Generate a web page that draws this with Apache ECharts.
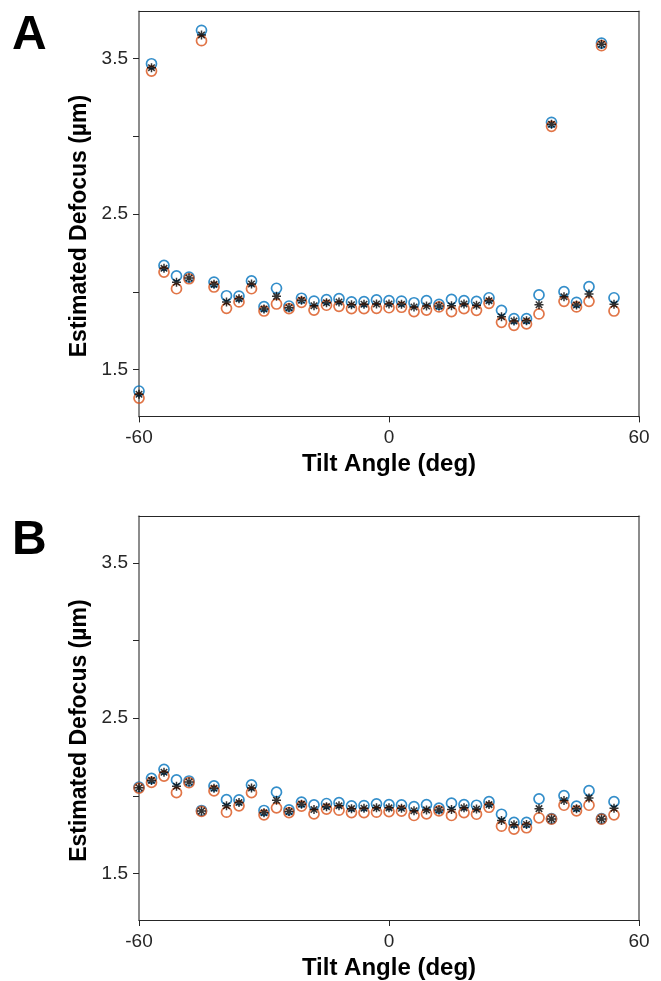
<!DOCTYPE html>
<html>
<head>
<meta charset="utf-8">
<script src="https://cdn.jsdelivr.net/npm/echarts@6/dist/echarts.min.js"></script>
<style>
html,body{margin:0;padding:0;background:#fff;}
#chart{width:661px;height:981px;}
</style>
</head>
<body>
<div id="chart"></div>
<script>
// ---- data ----
const angles = [-60,-57,-54,-51,-48,-45,-42,-39,-36,-33,-30,-27,-24,-21,-18,-15,-12,-9,-6,-3,0,3,6,9,12,15,18,21,24,27,30,33,36,39,42,45,48,51,54];

const blueA   = [1.363,3.465,2.170,2.102,2.095,3.680,2.063,1.975,1.973,2.070,1.905,2.023,1.909,1.959,1.941,1.950,1.956,1.935,1.937,1.948,1.943,1.941,1.930,1.943,1.920,1.952,1.943,1.939,1.962,1.881,1.828,1.828,1.980,3.089,2.001,1.933,2.033,3.598,1.962];
const starA   = [1.342,3.440,2.151,2.061,2.089,3.650,2.048,1.935,1.956,2.050,1.890,1.971,1.898,1.946,1.911,1.930,1.935,1.917,1.920,1.922,1.922,1.920,1.903,1.909,1.909,1.911,1.922,1.914,1.943,1.840,1.813,1.815,1.917,3.076,1.969,1.916,1.986,3.590,1.920];
const orangeA = [1.318,3.418,2.127,2.020,2.084,3.613,2.031,1.894,1.935,2.020,1.877,1.922,1.892,1.933,1.883,1.914,1.907,1.892,1.892,1.894,1.898,1.901,1.873,1.883,1.903,1.873,1.892,1.881,1.926,1.804,1.785,1.794,1.858,3.063,1.939,1.903,1.939,3.581,1.877];

const blueB   = [2.055,2.112,2.170,2.102,2.095,1.905,2.063,1.975,1.973,2.070,1.905,2.023,1.909,1.959,1.941,1.950,1.956,1.935,1.937,1.948,1.943,1.941,1.930,1.943,1.920,1.952,1.943,1.939,1.962,1.881,1.828,1.828,1.980,1.853,2.001,1.933,2.033,1.853,1.962];
const starB   = [2.052,2.099,2.151,2.061,2.089,1.902,2.048,1.935,1.956,2.050,1.890,1.971,1.898,1.946,1.911,1.930,1.935,1.917,1.920,1.922,1.922,1.920,1.903,1.909,1.909,1.911,1.922,1.914,1.943,1.840,1.813,1.815,1.917,1.851,1.969,1.916,1.986,1.851,1.920];
const orangeB = [2.049,2.086,2.127,2.020,2.084,1.899,2.031,1.894,1.935,2.020,1.877,1.922,1.892,1.933,1.883,1.914,1.907,1.892,1.892,1.894,1.898,1.901,1.873,1.883,1.903,1.873,1.892,1.881,1.926,1.804,1.785,1.794,1.858,1.849,1.939,1.903,1.939,1.849,1.877];

const xTicks = [-60, 0, 60];
const yTicks = [1.5, 2, 2.5, 3, 3.5];
const yLabels = [1.5, 2.5, 3.5];
const xTitle = 'Tilt Angle (deg)';
const yTitle = 'Estimated Defocus (µm)';
const panelLabels = ['A', 'B'];

// ---- styling / layout ----
const FONT = 'Liberation Sans, Arial, Helvetica, sans-serif';
const BLUE = '#0072BD', ORANGE = '#D95319';
const ASTER = 'path://M0,-5L0,5M-5,0L5,0M-3.6,-3.6L3.6,3.6M-3.6,3.6L3.6,-3.6';
const gridTops = [11.6, 516.2];
const gridH = 404.8;
const panelShift = 504.6;

const chart = echarts.init(document.getElementById('chart'), null, {renderer: 'canvas'});

const grids = [], xAxes = [], yAxes = [], series = [];
const pairs = (ys) => angles.map((a, i) => [a, ys[i]]);
const panels = [[blueA, orangeA, starA], [blueB, orangeB, starB]];

gridTops.forEach((top, g) => {
  grids.push({left: 139, width: 500, top: top, height: gridH, containLabel: false});
  // bottom axis
  xAxes.push({
    gridIndex: g, type: 'value', min: -60, max: 60, interval: 60, position: 'bottom',
    axisLine: {show: true, onZero: false, lineStyle: {color: '#262626', width: 1}},
    axisTick: {show: true, inside: false, length: 6, lineStyle: {color: '#262626', width: 1}},
    axisLabel: {show: true, margin: 12, color: '#262626', fontSize: 19, fontFamily: FONT,
                formatter: v => xTicks.includes(v) ? String(v) : ''},
    splitLine: {show: false},
    name: xTitle, nameLocation: 'middle', nameGap: 36,
    nameTextStyle: {fontSize: 24, fontWeight: 'bold', color: '#000', fontFamily: FONT}
  });
  // top border
  xAxes.push({
    gridIndex: g, type: 'value', min: -60, max: 60, position: 'top',
    axisLine: {show: true, onZero: false, lineStyle: {color: '#262626', width: 1}},
    axisTick: {show: false}, axisLabel: {show: false}, splitLine: {show: false}
  });
  // left axis
  yAxes.push({
    gridIndex: g, type: 'value', min: 1.2, max: 3.8, position: 'left',
    axisLine: {show: true, onZero: false, lineStyle: {color: '#8c8c8c', width: 2}},
    axisTick: {show: true, inside: false, length: 6, customValues: yTicks, lineStyle: {color: '#262626', width: 1}},
    axisLabel: {show: true, margin: 11, color: '#262626', fontSize: 19, fontFamily: FONT, customValues: yLabels,
                formatter: v => v.toFixed(1)},
    splitLine: {show: false}
  });
  // right border
  yAxes.push({
    gridIndex: g, type: 'value', min: 1.2, max: 3.8, position: 'right',
    axisLine: {show: true, onZero: false, lineStyle: {color: '#8c8c8c', width: 2}},
    axisTick: {show: false}, axisLabel: {show: false}, splitLine: {show: false}
  });

  const [b, o, s] = panels[g];
  const xi = g * 2, yi = g * 2;
  series.push({
    type: 'scatter', xAxisIndex: xi, yAxisIndex: yi, data: pairs(b),
    symbol: 'circle', symbolSize: 10, z: 2,
    itemStyle: {color: 'rgba(0,0,0,0)', borderColor: BLUE, borderWidth: 1.7}
  });
  series.push({
    type: 'scatter', xAxisIndex: xi, yAxisIndex: yi, data: pairs(o),
    symbol: 'circle', symbolSize: 10, z: 3,
    itemStyle: {color: 'rgba(0,0,0,0)', borderColor: ORANGE, borderWidth: 1.7}
  });
  series.push({
    type: 'scatter', xAxisIndex: xi, yAxisIndex: yi, data: pairs(s),
    symbol: ASTER, symbolSize: 9, z: 4,
    itemStyle: {color: 'none', borderColor: '#000', borderWidth: 1.5}
  });
});

const graphics = [];
panelLabels.forEach((t, i) => {
  graphics.push({
    type: 'text', left: 12, top: 12 + i * panelShift,
    style: {text: t, font: 'bold 48px ' + FONT, fill: '#000'}
  });
  graphics.push({
    type: 'text', x: 80, y: 226 + i * panelShift, rotation: Math.PI / 2,
    style: {text: yTitle, x: 0, y: 0, align: 'center', verticalAlign: 'middle',
            font: 'bold 23px ' + FONT, fill: '#000'}
  });
});

chart.setOption({
  animation: false,
  backgroundColor: '#fff',
  grid: grids,
  xAxis: xAxes,
  yAxis: yAxes,
  series: series,
  graphic: graphics
});
</script>
</body>
</html>
